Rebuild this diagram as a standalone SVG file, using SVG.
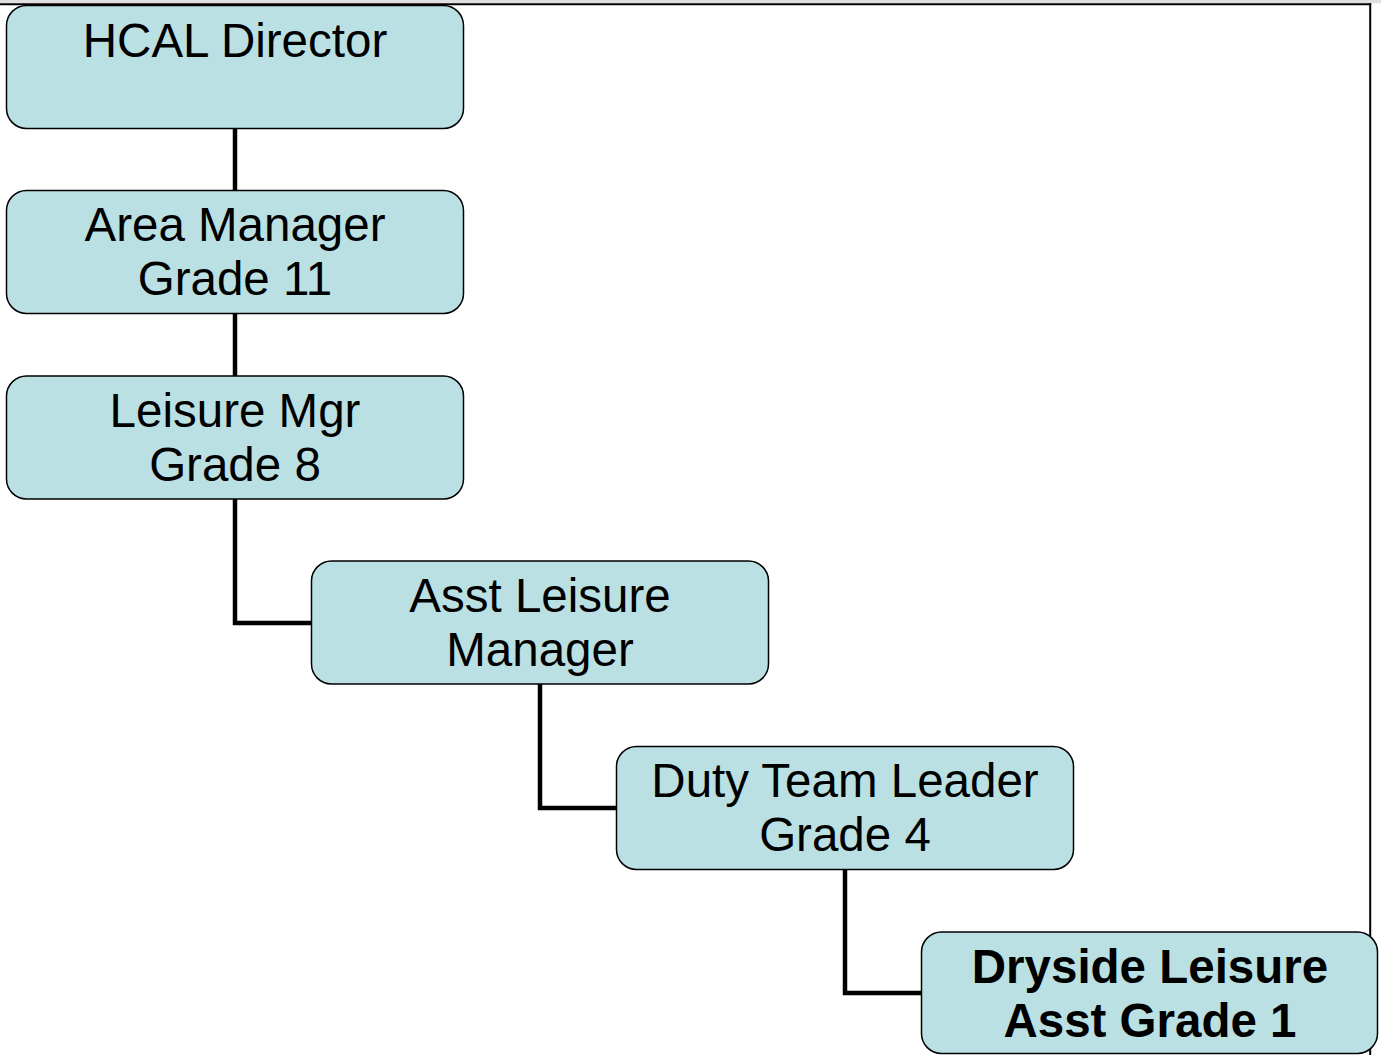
<svg xmlns="http://www.w3.org/2000/svg" width="1381" height="1055" viewBox="0 0 1381 1055">
<style>
.box{fill:#bae0e3;stroke:#000;stroke-width:1.5}
.t{font-family:"Liberation Sans",Arial,sans-serif;font-size:47.5px;fill:#000;text-anchor:middle}
.b{font-weight:bold}
.c{fill:none;stroke:#000;stroke-width:4.5}
</style>
<rect x="0" y="0" width="1381" height="1055" fill="#fff"/>
<rect x="0" y="0" width="1381" height="3.3" fill="#e0e0e0"/>
<line x1="0" y1="4.3" x2="1371.2" y2="4.3" stroke="#000" stroke-width="2"/>
<line x1="1370.2" y1="3.3" x2="1370.2" y2="1055" stroke="#000" stroke-width="2"/>
<g id="connectors">
<path class="c" d="M235 128V190"/>
<path class="c" d="M235 314V376"/>
<path class="c" d="M235 499V623H311"/>
<path class="c" d="M540 684V808H616"/>
<path class="c" d="M845 869V993H921"/>
</g>
<g id="n1"><rect class="box" x="6.5" y="5.5" width="457" height="123" rx="20"/><text class="t" x="235" y="57">HCAL Director</text></g>
<g id="n2"><rect class="box" x="6.5" y="190.5" width="457" height="123" rx="20"/><text class="t" x="235" y="241">Area Manager</text><text class="t" x="235" y="295">Grade 11</text></g>
<g id="n3"><rect class="box" x="6.5" y="376" width="457" height="123" rx="20"/><text class="t" x="235" y="427">Leisure Mgr</text><text class="t" x="235" y="481">Grade 8</text></g>
<g id="n4"><rect class="box" x="311.5" y="561" width="457" height="123" rx="20"/><text class="t" x="540" y="612">Asst Leisure</text><text class="t" x="540" y="666">Manager</text></g>
<g id="n5"><rect class="box" x="616.5" y="746.5" width="457" height="123" rx="20"/><text class="t" x="845" y="797">Duty Team Leader</text><text class="t" x="845" y="851">Grade 4</text></g>
<g id="n6"><rect class="box" x="921.5" y="932" width="456" height="121.5" rx="20"/><text class="t b" x="1150" y="983">Dryside Leisure</text><text class="t b" x="1150" y="1037">Asst Grade 1</text></g>
</svg>
